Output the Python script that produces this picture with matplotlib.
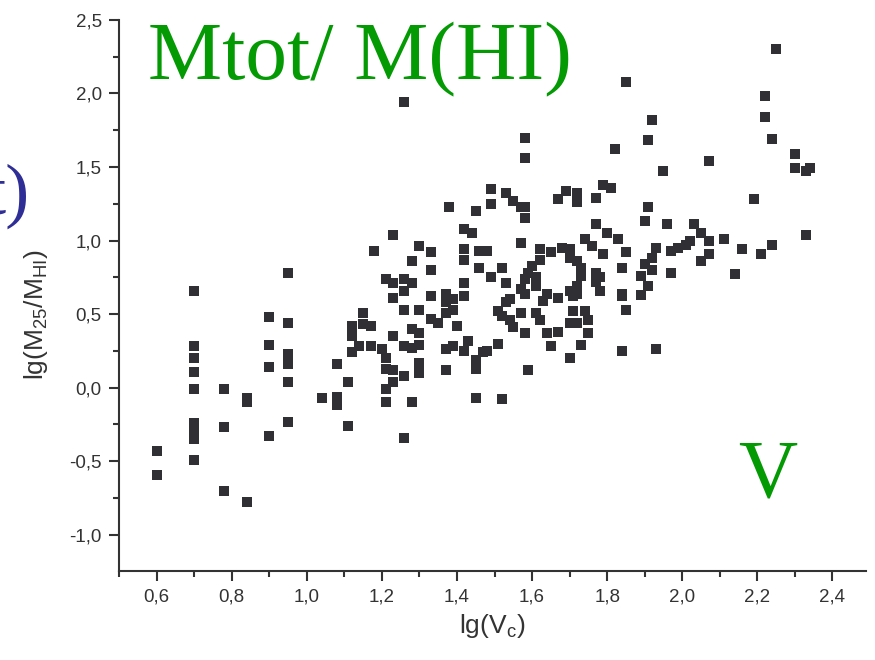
import numpy as np
import matplotlib.pyplot as plt
from matplotlib.ticker import FuncFormatter, MultipleLocator

# lg(Vc) and lg(M25/MHI) per galaxy
lg_vc = [
    0.60, 0.60,
    0.70, 0.70, 0.70, 0.70, 0.70, 0.70, 0.70, 0.70, 0.70,
    0.78, 0.78, 0.78, 0.84, 0.84, 0.84,
    0.90, 0.90, 0.90, 0.90, 0.95, 0.95, 0.95, 0.95, 0.95, 0.95,
    1.38, 1.23, 1.18, 1.30, 1.33, 1.28, 1.42, 1.42, 1.42, 1.42,
    1.21, 1.23, 1.26, 1.28, 1.33, 1.33, 1.26, 1.23, 1.26,
    1.37, 1.37, 1.37, 1.39, 1.39, 1.30, 1.15, 1.12, 1.12,
    1.15, 1.17, 1.40, 1.33, 1.35, 1.28, 1.30, 1.23,
    1.14, 1.17, 1.20, 1.12, 1.26, 1.28, 1.30, 1.21, 1.21,
    1.23, 1.26, 1.30, 1.30, 1.37, 1.39, 1.37, 1.42, 1.08,
    1.11, 1.04, 1.08, 1.08, 1.21, 1.21, 1.28, 1.11, 1.26, 1.23,
    1.58, 1.58, 1.82, 1.85,
    1.49, 1.49, 1.45, 1.53, 1.55, 1.57, 1.58, 1.58,
    1.67, 1.69, 1.72, 1.72, 1.77, 1.79, 1.81, 1.77,
    1.80, 1.83, 1.74, 1.76, 1.79, 1.85, 1.84, 1.57,
    1.46, 1.48, 1.46, 1.52, 1.49, 1.53,
    1.62, 1.62, 1.60, 1.59, 1.58, 1.65, 1.68, 1.70, 1.70,
    1.72, 1.73, 1.77, 1.78, 1.78, 1.77, 1.73, 1.72, 1.70, 1.71,
    1.67, 1.84, 1.84, 1.61, 1.64, 1.63, 1.61, 1.58,
    1.57, 1.54, 1.53, 1.51, 1.52, 1.57, 1.54, 1.55, 1.58,
    1.61, 1.62, 1.64, 1.67, 1.65, 1.72,
    1.71, 1.74, 1.75, 1.70, 1.72, 1.75, 1.73, 1.70, 1.59,
    1.43, 1.47, 1.45, 1.45, 1.51, 1.48, 1.42, 1.44,
    1.45, 1.52, 1.84, 1.93, 1.85,
    1.95, 2.07, 2.30, 2.34, 2.33, 2.19, 1.91, 1.90, 1.96,
    2.03, 2.05, 2.07, 2.11, 2.02, 2.01, 1.99, 1.97, 2.07,
    2.05, 2.16, 2.24, 2.21, 2.33, 2.14, 1.97, 1.93, 1.92,
    1.90, 1.92, 1.89, 1.91, 1.89,
    2.25, 2.22, 2.22, 2.24, 2.30, 1.92, 1.91, 1.26,
]
lg_ratio = [
    -0.43, -0.59,
    0.66, 0.28, 0.20, 0.11, -0.01, -0.24, -0.30, -0.35, -0.49,
    -0.01, -0.27, -0.70, -0.07, -0.10, -0.78,
    0.48, 0.29, 0.14, -0.33, 0.78, 0.44, 0.23, 0.16, 0.04, -0.23,
    1.23, 1.04, 0.93, 0.96, 0.92, 0.86, 1.08, 0.94, 0.87, 0.71,
    0.74, 0.71, 0.74, 0.71, 0.80, 0.62, 0.66, 0.61, 0.53,
    0.64, 0.58, 0.51, 0.60, 0.53, 0.53, 0.51, 0.42, 0.35,
    0.43, 0.42, 0.42, 0.47, 0.44, 0.40, 0.37, 0.35,
    0.28, 0.28, 0.26, 0.24, 0.28, 0.27, 0.29, 0.20, 0.13,
    0.12, 0.08, 0.17, 0.10, 0.26, 0.28, 0.12, 0.25, 0.16,
    0.04, -0.07, -0.06, -0.12, -0.01, -0.10, -0.10, -0.26, -0.34, 0.04,
    1.70, 1.56, 1.62, 2.08,
    1.35, 1.25, 1.20, 1.32, 1.27, 1.23, 1.23, 1.15,
    1.28, 1.34, 1.32, 1.26, 1.29, 1.38, 1.36, 1.11,
    1.05, 1.01, 1.01, 0.96, 0.91, 0.92, 0.81, 0.98,
    0.93, 0.93, 0.81, 0.81, 0.75, 0.71,
    0.94, 0.87, 0.83, 0.78, 0.74, 0.92, 0.95, 0.94, 0.88,
    0.86, 0.81, 0.78, 0.75, 0.66, 0.72, 0.76, 0.69, 0.66, 0.62,
    0.61, 0.64, 0.62, 0.69, 0.64, 0.59, 0.75, 0.64,
    0.67, 0.60, 0.58, 0.52, 0.49, 0.51, 0.46, 0.41, 0.37,
    0.51, 0.46, 0.37, 0.38, 0.28, 0.64,
    0.52, 0.52, 0.46, 0.44, 0.44, 0.37, 0.29, 0.20, 0.12,
    0.32, 0.24, 0.19, 0.13, 0.30, 0.25, 0.62, 1.05,
    -0.07, -0.08, 0.25, 0.26, 0.53,
    1.47, 1.54, 1.49, 1.49, 1.47, 1.28, 1.23, 1.13, 1.11,
    1.11, 1.05, 1.00, 1.01, 1.00, 0.97, 0.95, 0.93, 0.91,
    0.86, 0.94, 0.97, 0.91, 1.04, 0.77, 0.78, 0.95, 0.88,
    0.84, 0.80, 0.76, 0.69, 0.63,
    2.30, 1.98, 1.84, 1.69, 1.59, 1.82, 1.68, 1.94,
]

x_ticks = [0.6, 0.8, 1.0, 1.2, 1.4, 1.6, 1.8, 2.0, 2.2, 2.4]
y_ticks = [-1.0, -0.5, 0.0, 0.5, 1.0, 1.5, 2.0, 2.5]

ink = '#333333'
plt.rcParams['font.family'] = ['Liberation Sans', 'DejaVu Sans']
plt.rcParams['mathtext.default'] = 'regular'

fig = plt.figure(figsize=(8.75, 6.6), dpi=100)
ax = fig.add_axes([0.136, 0.135, 0.854, 0.835])

ax.scatter(lg_vc, lg_ratio, marker='s', s=62, color='#303034', linewidths=0)

ax.set_xlim(0.5, 2.49)
ax.set_ylim(-1.245, 2.5)
ax.spines['top'].set_visible(False)
ax.spines['right'].set_visible(False)
for side in ('left', 'bottom'):
    ax.spines[side].set_color(ink)
    ax.spines[side].set_linewidth(1.5)

comma = FuncFormatter(lambda v, pos: f'{v:.1f}'.replace('.', ','))
ax.set_xticks(x_ticks)
ax.set_yticks(y_ticks)
ax.xaxis.set_major_formatter(comma)
ax.yaxis.set_major_formatter(comma)
ax.xaxis.set_minor_locator(MultipleLocator(0.1))
ax.yaxis.set_minor_locator(MultipleLocator(0.25))
ax.tick_params(which='major', direction='out', length=7.5, width=1.5,
               color=ink, labelcolor=ink, labelsize=13.5, pad=5)
ax.tick_params(which='minor', direction='out', length=4.5, width=1.5, color=ink)

ax.set_xlabel('lg(V$_c$)', fontsize=19, color=ink, labelpad=5)
ax.set_ylabel('lg(M$_{25}$/M$_{HI}$)', fontsize=19, color=ink)
ax.yaxis.set_label_coords(-0.092, 0.465)

green = '#049a04'
fig.text(0.169, 0.879, 'Mtot/ M(HI)', fontsize=60, color=green,
         family='Liberation Serif', va='baseline')
fig.text(0.877, 0.247, 'V', fontsize=59, color=green,
         family='Liberation Serif', ha='center', va='baseline')
fig.text(0.033, 0.676, 't)', fontsize=52, color='#2e2e96',
         family='Liberation Serif', ha='right', va='baseline')

fig.savefig('out.png', dpi=100)
